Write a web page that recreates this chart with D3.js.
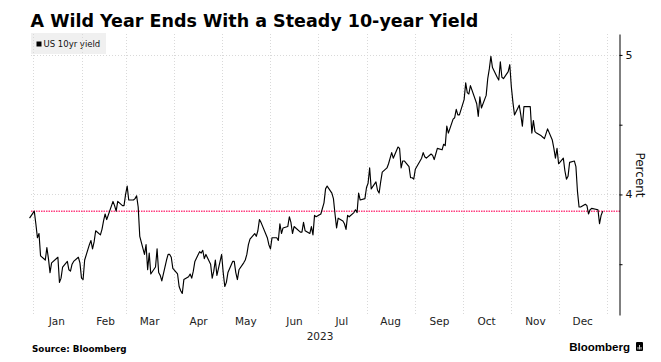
<!DOCTYPE html>
<html>
<head>
<meta charset="utf-8">
<title>US 10yr yield</title>
<script src="https://cdn.jsdelivr.net/npm/d3@7"></script>
<style>
body{margin:0;background:#fff;}
svg{display:block;font-family:"DejaVu Sans",Verdana,sans-serif;}
</style>
</head>
<body>
<div id="chart"></div>
<script>

var w=661,h=362;
var plotL=31,plotR=620,plotT=34,plotB=315;

// data
var tradeDates=[
 "2022-12-30","2023-01-02","2023-01-03","2023-01-04","2023-01-05","2023-01-06","2023-01-09","2023-01-10","2023-01-11","2023-01-12","2023-01-13","2023-01-17","2023-01-18","2023-01-19","2023-01-20","2023-01-23","2023-01-24","2023-01-25","2023-01-26","2023-01-27","2023-01-30","2023-01-31",
 "2023-02-01","2023-02-02","2023-02-03","2023-02-06","2023-02-07","2023-02-08","2023-02-09","2023-02-10","2023-02-13","2023-02-14","2023-02-15","2023-02-16","2023-02-17","2023-02-21","2023-02-22","2023-02-23","2023-02-24","2023-02-27","2023-02-28",
 "2023-03-01","2023-03-02","2023-03-03","2023-03-06","2023-03-07","2023-03-08","2023-03-09","2023-03-10","2023-03-13","2023-03-14","2023-03-15","2023-03-16","2023-03-17","2023-03-20","2023-03-21","2023-03-22","2023-03-23","2023-03-24","2023-03-27","2023-03-28","2023-03-29","2023-03-30","2023-03-31",
 "2023-04-03","2023-04-04","2023-04-05","2023-04-06","2023-04-07","2023-04-10","2023-04-11","2023-04-12","2023-04-13","2023-04-14","2023-04-17","2023-04-18","2023-04-19","2023-04-20","2023-04-21","2023-04-24","2023-04-25","2023-04-26","2023-04-27","2023-04-28",
 "2023-05-01","2023-05-02","2023-05-03","2023-05-04","2023-05-05","2023-05-08","2023-05-09","2023-05-10","2023-05-11","2023-05-12","2023-05-15","2023-05-16","2023-05-17","2023-05-18","2023-05-19","2023-05-22","2023-05-23","2023-05-24","2023-05-25","2023-05-26","2023-05-30","2023-05-31",
 "2023-06-01","2023-06-02","2023-06-05","2023-06-06","2023-06-07","2023-06-08","2023-06-09","2023-06-12","2023-06-13","2023-06-14","2023-06-15","2023-06-16","2023-06-20","2023-06-21","2023-06-22","2023-06-23","2023-06-26","2023-06-27","2023-06-28","2023-06-29","2023-06-30",
 "2023-07-03","2023-07-05","2023-07-06","2023-07-07","2023-07-10","2023-07-11","2023-07-12","2023-07-13","2023-07-14","2023-07-17","2023-07-18","2023-07-19","2023-07-20","2023-07-21","2023-07-24","2023-07-25","2023-07-26","2023-07-27","2023-07-28","2023-07-31",
 "2023-08-01","2023-08-02","2023-08-03","2023-08-04","2023-08-07","2023-08-08","2023-08-09","2023-08-10","2023-08-11","2023-08-14","2023-08-15","2023-08-16","2023-08-17","2023-08-18","2023-08-21","2023-08-22","2023-08-23","2023-08-24","2023-08-25","2023-08-28","2023-08-29","2023-08-30","2023-08-31",
 "2023-09-01","2023-09-05","2023-09-06","2023-09-07","2023-09-08","2023-09-11","2023-09-12","2023-09-13","2023-09-14","2023-09-15","2023-09-18","2023-09-19","2023-09-20","2023-09-21","2023-09-22","2023-09-25","2023-09-26","2023-09-27","2023-09-28","2023-09-29",
 "2023-10-02","2023-10-03","2023-10-04","2023-10-05","2023-10-06","2023-10-10","2023-10-11","2023-10-12","2023-10-13","2023-10-16","2023-10-17","2023-10-18","2023-10-19","2023-10-20","2023-10-23","2023-10-24","2023-10-25","2023-10-26","2023-10-27","2023-10-30","2023-10-31",
 "2023-11-01","2023-11-02","2023-11-03","2023-11-06","2023-11-07","2023-11-08","2023-11-09","2023-11-10","2023-11-13","2023-11-14","2023-11-15","2023-11-16","2023-11-17","2023-11-20","2023-11-21","2023-11-22","2023-11-24","2023-11-27","2023-11-28","2023-11-29","2023-11-30",
 "2023-12-01","2023-12-04","2023-12-05","2023-12-06","2023-12-07","2023-12-08","2023-12-11","2023-12-12","2023-12-13","2023-12-14","2023-12-15","2023-12-18","2023-12-19","2023-12-20","2023-12-21","2023-12-22","2023-12-26","2023-12-27","2023-12-28","2023-12-29"
];

var yields=[
 3.83,3.88,3.79,3.69,3.72,3.56,3.53,3.62,3.54,3.44,3.51,3.55,3.37,3.40,3.48,3.52,3.46,3.45,3.50,3.52,3.55,3.51,
 3.40,3.39,3.53,3.64,3.67,3.61,3.66,3.74,3.71,3.75,3.81,3.86,3.82,3.95,3.92,3.88,3.95,3.92,3.92,
 4.00,4.06,3.96,3.96,3.97,3.99,3.91,3.70,3.57,3.64,3.46,3.58,3.43,3.48,3.61,3.44,3.42,3.38,3.53,3.57,3.57,3.55,3.47,
 3.43,3.34,3.31,3.29,3.39,3.41,3.43,3.40,3.45,3.52,3.59,3.58,3.60,3.54,3.57,3.50,3.40,3.45,3.53,3.42,
 3.57,3.44,3.34,3.37,3.44,3.52,3.52,3.44,3.39,3.46,3.51,3.53,3.57,3.64,3.68,3.72,3.70,3.74,3.82,3.80,3.69,3.64,
 3.61,3.69,3.69,3.67,3.79,3.72,3.76,3.77,3.84,3.80,3.72,3.77,3.73,3.73,3.80,3.74,3.72,3.77,3.71,3.85,3.84,
 3.86,3.94,4.04,4.06,4.01,3.97,3.86,3.76,3.83,3.81,3.79,3.75,3.85,3.84,3.87,3.89,3.87,4.01,3.96,3.97,
 4.05,4.08,4.19,4.04,4.09,4.03,4.01,4.09,4.16,4.19,4.22,4.26,4.30,4.26,4.34,4.33,4.19,4.24,4.24,4.20,4.12,4.12,4.11,
 4.18,4.26,4.30,4.27,4.26,4.29,4.28,4.25,4.29,4.33,4.32,4.36,4.35,4.49,4.44,4.54,4.55,4.61,4.57,4.57,
 4.68,4.80,4.73,4.72,4.78,4.65,4.56,4.70,4.62,4.71,4.83,4.90,4.99,4.91,4.84,4.82,4.95,4.84,4.83,4.88,4.93,
 4.77,4.66,4.57,4.64,4.57,4.49,4.63,4.63,4.63,4.44,4.53,4.45,4.44,4.42,4.41,4.40,4.47,4.39,4.33,4.26,4.33,
 4.22,4.26,4.17,4.11,4.13,4.23,4.24,4.20,4.02,3.91,3.91,3.93,3.92,3.86,3.89,3.90,3.89,3.79,3.85,3.88
];

var yTicks=[4,5];
var yMinorTicks=[3.5,4.5];
var monthLabels=["Jan","Feb","Mar","Apr","May","Jun","Jul","Aug","Sep","Oct","Nov","Dec"];
var yearLabel="2023";
var lastValue=yields[yields.length-1];

var parse=d3.timeParse("%Y-%m-%d");
var data=tradeDates.map(function(d,i){return {date:parse(d),v:yields[i]};});

var x=d3.scaleTime()
  .domain([new Date(2023,0,1),new Date(2024,0,9)])
  .range([32.7,plotR]);
var y=d3.scaleLinear()
  .domain([3.136,5.15])
  .range([plotB,plotT]);

var svg=d3.select('#chart').append('svg')
  .attr('width',w)
  .attr('height',h);

// title
svg.append('text')
  .attr('x',30.5).attr('y',27)
  .attr('font-size',17.5).attr('font-weight','bold')
  .attr('fill','#000')
  .text('A Wild Year Ends With a Steady 10-year Yield');

// legend box
var lg=svg.append('g');
lg.append('rect').attr('x',31).attr('y',33).attr('width',75).attr('height',21).attr('fill','#f0f0f0');
lg.append('rect').attr('x',36.5).attr('y',41.5).attr('width',5).attr('height',5).attr('fill','#000');
lg.append('text').attr('x',43.5).attr('y',47).attr('font-size',8.5).attr('fill','#111').text('US 10yr yield');

// vertical grid at month starts
var monthStarts=d3.timeMonth.range(new Date(2023,0,1),new Date(2024,0,2));
svg.append('g').selectAll('line')
  .data(monthStarts)
  .enter().append('line')
  .attr('x1',function(d){return Math.round(x(d))+0.5;})
  .attr('x2',function(d){return Math.round(x(d))+0.5;})
  .attr('y1',plotT).attr('y2',plotB)
  .attr('stroke','#d9d9d9').attr('stroke-width',1)
  .attr('stroke-dasharray','1,2');

// horizontal grid
svg.append('g').selectAll('line')
  .data(yTicks)
  .enter().append('line')
  .attr('x1',plotL).attr('x2',plotR)
  .attr('y1',function(d){return Math.round(y(d))+0.5;})
  .attr('y2',function(d){return Math.round(y(d))+0.5;})
  .attr('stroke','#d9d9d9').attr('stroke-width',1)
  .attr('stroke-dasharray','1,2');

// last value reference line
svg.append('line')
  .attr('x1',plotL).attr('x2',plotR)
  .attr('y1',y(lastValue))
  .attr('y2',y(lastValue))
  .attr('stroke','#ff3d7f').attr('stroke-width',1.4)
  .attr('stroke-dasharray','1.5,1');

// yield line
var line=d3.line()
  .x(function(d){return x(d.date);})
  .y(function(d){return y(d.v);});
svg.append('path')
  .datum(data)
  .attr('d',line)
  .attr('fill','none')
  .attr('stroke','#000')
  .attr('stroke-width',1.15)
  .attr('stroke-linejoin','round');

// right axis
var yAxis=d3.axisRight(y)
  .tickValues(yTicks.concat(yMinorTicks))
  .tickSize(3)
  .tickSizeOuter(0)
  .tickPadding(3)
  .tickFormat(function(d){return yTicks.indexOf(d)>=0?d:'';});
var ya=svg.append('g')
  .attr('transform','translate('+(plotR-0.5)+',0)')
  .call(yAxis);
ya.select('.domain').attr('stroke','#000');
ya.selectAll('line').attr('stroke','#000');
ya.selectAll('text').attr('font-size',11).attr('fill','#111')
  .attr('font-family','"DejaVu Sans",Verdana,sans-serif');

svg.append('text')
  .attr('transform','translate(636,175) rotate(90)')
  .attr('text-anchor','middle')
  .attr('font-size',12).attr('fill','#111')
  .text('Percent');

// month labels in mid-month
var xAxis=d3.axisBottom(x)
  .tickValues(monthLabels.map(function(m,i){return new Date(2023,i,16);}))
  .tickSize(0)
  .tickPadding(3)
  .tickFormat(function(d){return monthLabels[d.getMonth()];});
var xa=svg.append('g')
  .attr('transform','translate(0,'+plotB+')')
  .call(xAxis);
xa.select('.domain').remove();
xa.selectAll('text').attr('font-size',10.5).attr('fill','#222')
  .attr('font-family','"DejaVu Sans",Verdana,sans-serif');

svg.append('text')
  .attr('x',320).attr('y',340)
  .attr('text-anchor','middle')
  .attr('font-size',10.5).attr('fill','#222')
  .text(yearLabel);

// footer
svg.append('text')
  .attr('x',32).attr('y',352)
  .attr('font-size',8.8).attr('font-weight','bold').attr('fill','#000')
  .text('Source: Bloomberg');

svg.append('text')
  .attr('x',630).attr('y',351)
  .attr('text-anchor','end')
  .attr('font-family','"Liberation Sans",Arial,sans-serif')
  .attr('font-size',11.5).attr('font-weight','bold').attr('fill','#000')
  .text('Bloomberg');
var logo=svg.append('g').attr('transform','translate(636,342)');
logo.append('rect').attr('width',7).attr('height',9).attr('rx',1).attr('fill','#000');
logo.selectAll('line.bar')
  .data([[2,5],[3.5,3],[5,5]])
  .enter().append('line')
  .attr('x1',function(d){return d[0];}).attr('x2',function(d){return d[0];})
  .attr('y1',function(d){return d[1];}).attr('y2',7.5)
  .attr('stroke','#fff').attr('stroke-width',0.8);

</script>
</body>
</html>
